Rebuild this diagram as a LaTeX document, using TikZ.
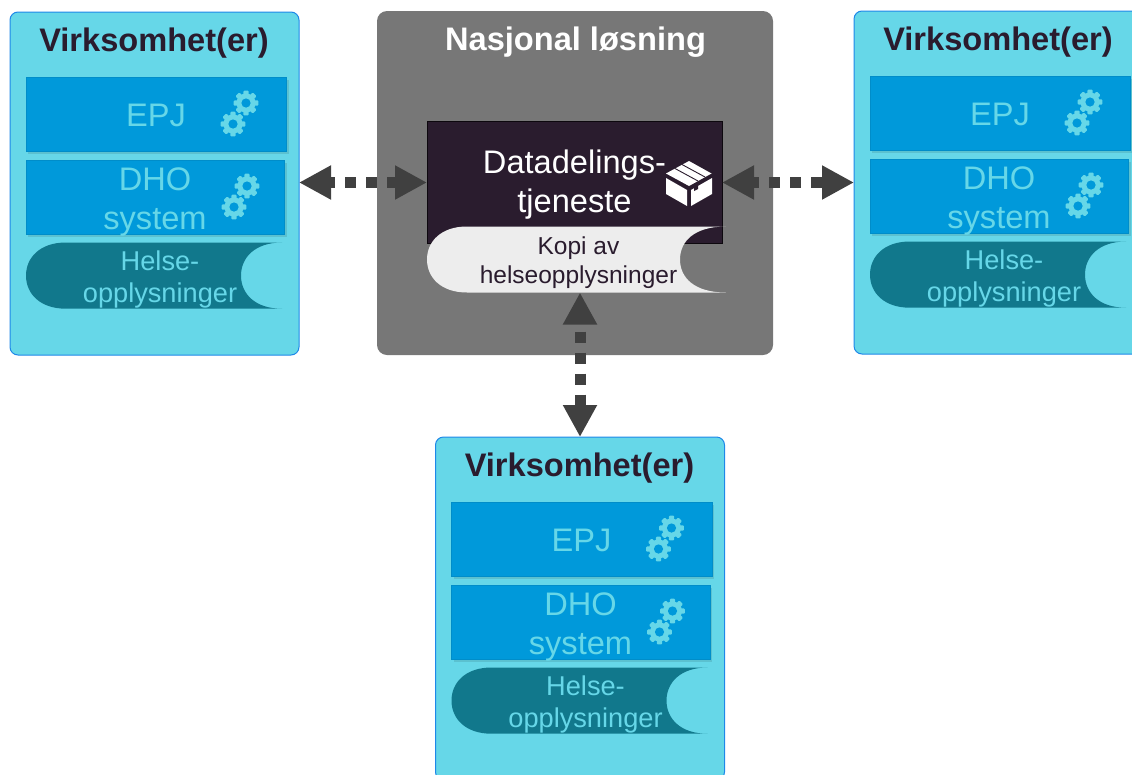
\documentclass[tikz,border=0pt]{standalone}
\usepackage{fontspec}
\setmainfont{Liberation Sans}
\usetikzlibrary{arrows.meta}
\definecolor{cyanbg}{HTML}{66D7E8}
\definecolor{cyanline}{HTML}{1E88E8}
\definecolor{bluebox}{HTML}{0099DA}
\definecolor{tealshape}{HTML}{11788C}
\definecolor{greypanel}{HTML}{777777}
\definecolor{darkbox}{HTML}{2A1C2E}
\definecolor{lightshape}{HTML}{EDEDED}
\definecolor{arrowgrey}{HTML}{404040}
\newcommand{\sz}[2]{\fontsize{#1}{#2}\selectfont}
\newcommand{\gearicon}[2]{%
  \fill[cyanbg] (#1,#2) circle[radius=9.5];
  \foreach \ang in {0,45,90,135}{
    \fill[cyanbg,rotate around={\ang:(#1,#2)},rounded corners=1pt] (#1-2.7,#2-12.3) rectangle (#1+2.7,#2+12.3);
  }
  \fill[bluebox] (#1,#2) circle[radius=4.6];
}
\newcommand{\storedpath}[5]{% x0, top, x1, bottom, concave x
  (#1+40,#2) -- (#3,#2)
  .. controls (#5+14,#2) and (#5,#2+15) .. (#5,#2/2+#4/2)
  .. controls (#5,#4-15) and (#5+14,#4) .. (#3,#4)
  -- (#1+40,#4)
  .. controls (#1+14,#4) and (#1,#4-15) .. (#1,#2/2+#4/2)
  .. controls (#1,#2+15) and (#1+14,#2) .. (#1+40,#2) -- cycle
}
\tikzset{
  x=1pt,y=-1pt,
  virkbox/.style={draw=cyanline,line width=1pt,fill=cyanbg,rounded corners=8pt,inner sep=0pt,outer sep=0pt,minimum width=289pt,minimum height=343pt},
  sysbox/.style={fill=bluebox,draw=bluebox!92!black,line width=0.4pt,inner sep=0pt,outer sep=0pt},
  systext/.style={text=cyanbg,inner sep=0pt,align=center,font=\sz{32.6}{39.5}},
  headtext/.style={inner sep=0pt,font=\bfseries\sz{32.6}{38}},
  storetext/.style={inner sep=0pt,align=center,text=cyanbg,font=\sz{27.2}{32}},
  dasharrow/.style={draw=arrowgrey,line width=11pt,dash pattern=on 11pt off 10pt,
    {Triangle[length=32pt,width=32pt,fill=arrowgrey]}-{Triangle[length=32pt,width=32pt,fill=arrowgrey]}},
  virk/.pic={
    \node[virkbox] (box) at (154.5,183.5) {};
    \node[headtext,text=darkbox] (title) at (154,43) {Virksomhet(er)};
    \fill[black,opacity=.10] (28,79.5) rectangle (288.5,154);
    \fill[black,opacity=.10] (28,162.5) rectangle (286.5,237);
    \node[sysbox,minimum width=260.5pt,minimum height=74.5pt] (epj) at (156,114.4) {};
    \node[systext] (epjtext) at (156,115.5) {EPJ};
    \node[sysbox,minimum width=258.5pt,minimum height=74.5pt] (dho) at (155,197.4) {};
    \node[systext] (dhotext) at (155,202) {DHO\\system};
    \gearicon{246}{103}\gearicon{233}{124}
    \gearicon{247}{186}\gearicon{234}{207}
    \fill[tealshape] \storedpath{26}{242.5}{282}{308.7}{241};
    \node[storetext] (helse) at (160,279) {Helse-\\opplysninger};
  }
}
\begin{document}
\begin{tikzpicture}
\clip (0,0) rectangle (1132,774);
\pic (L) at (0,0) {virk};
\pic (R) at (844,-1) {virk};
\pic (B) at (425.5,425) {virk};
\node[fill=greypanel,rounded corners=10pt,inner sep=0pt,outer sep=0pt,minimum width=396pt,minimum height=344pt] (panel) at (575,183) {};
\node[headtext,text=white] (natl) at (575.5,42) {Nasjonal løsning};
\node[fill=darkbox,draw=black!70!darkbox,line width=.4pt,inner sep=0pt,outer sep=0pt,minimum width=295pt,minimum height=122pt] (dd) at (574.5,182.5) {};
\node[text=white,inner sep=0pt,align=center,font=\sz{32.6}{39.5}] (ddtext) at (574.5,184.5) {Datadelings-\\tjeneste};
\fill[lightshape] \storedpath{427}{226.5}{726}{292.5}{680};
\node[inner sep=0pt,outer sep=0pt,minimum width=301pt,minimum height=66pt] (kopi) at (577.5,259.5) {};
\node[text=darkbox,inner sep=0pt,align=center,font=\sz{24.5}{29}] (kopitext) at (578.5,262.5) {Kopi av\\helseopplysninger};
% package icon
\fill[white] (689,161) -- (711.5,173.5) -- (689,186) -- (666,173.5) -- cycle;
\fill[white] (666,178) -- (687,190) -- (687,206) -- (666,194) -- cycle;
\fill[white] (712,178) -- (691,190) -- (691,206) -- (712,194) -- cycle;
\draw[darkbox,line width=.9pt] (675,168.5) -- (698,181) (682,164.5) -- (705,177);
\fill[darkbox] (694,187) -- (698,185) -- (698,189) -- (694,191) -- cycle;
% connectors
\draw[dasharrow,dash phase=5pt] (dd.west -| Lbox.east) -- (dd.west);
\draw[dasharrow,dash phase=4pt] (dd.east) -- (Rbox.west);
\draw[dasharrow,dash phase=12pt] (kopi.south -| Bbox.north) -- (Bbox.north);
\end{tikzpicture}
\end{document}
